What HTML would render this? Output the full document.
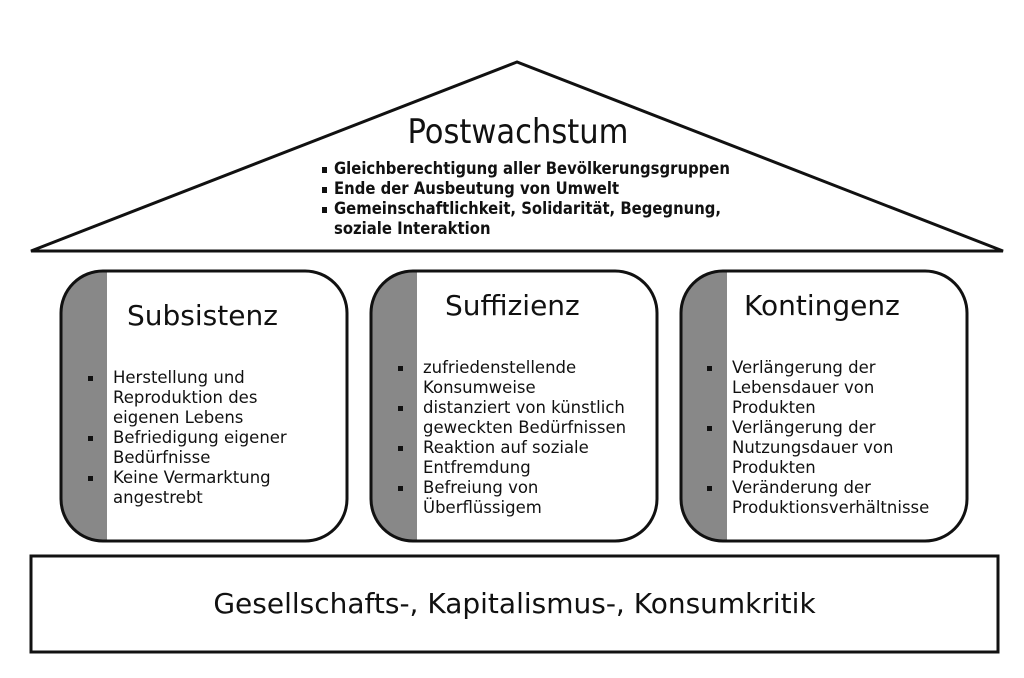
<!DOCTYPE html>
<html><head><meta charset="utf-8"><style>
body{margin:0;width:1024px;height:678px;background:#fff;position:relative;overflow:hidden;font-family:"DejaVu Sans","Liberation Sans",sans-serif;color:#111}
.t{position:absolute;white-space:nowrap}
.h{font-size:28px}
.tri{position:absolute;left:322px;top:159px;font-family:"DejaVu Sans Condensed","DejaVu Sans",sans-serif;font-size:16.5px;font-weight:bold;line-height:20px;white-space:nowrap}
.tri div{position:relative;padding-left:12px}
.tri div.b:before{content:"";position:absolute;left:0;top:8px;width:5px;height:6px;background:#111}
.lst{position:absolute;font-size:16.5px;line-height:20px;white-space:nowrap}
.lst div{position:relative}
.lst div.b:before{content:"";position:absolute;left:-25px;top:8px;width:5px;height:5px;background:#111}
</style></head><body>
<svg width="1024" height="678" style="position:absolute;left:0;top:0">
<polygon points="517,62 31,251 1003,251" fill="#fff" stroke="#111" stroke-width="3"/>
<defs>
<clipPath id="c1"><rect x="61" y="271" width="286" height="270" rx="42"/></clipPath>
<clipPath id="c2"><rect x="371" y="271" width="286" height="270" rx="42"/></clipPath>
<clipPath id="c3"><rect x="681" y="271" width="286" height="270" rx="42"/></clipPath>
</defs>
<rect x="61" y="271" width="46" height="270" fill="#888" clip-path="url(#c1)"/>
<rect x="371" y="271" width="46" height="270" fill="#888" clip-path="url(#c2)"/>
<rect x="681" y="271" width="46" height="270" fill="#888" clip-path="url(#c3)"/>
<rect x="61" y="271" width="286" height="270" rx="42" fill="none" stroke="#111" stroke-width="3"/>
<rect x="371" y="271" width="286" height="270" rx="42" fill="none" stroke="#111" stroke-width="3"/>
<rect x="681" y="271" width="286" height="270" rx="42" fill="none" stroke="#111" stroke-width="3"/>
<rect x="31" y="556" width="967" height="96" fill="#fff" stroke="#111" stroke-width="3"/>
</svg>
<div class="t" style="left:0;width:1036px;text-align:center;top:112px;font-family:'DejaVu Sans Condensed','DejaVu Sans',sans-serif;font-size:34px">Postwachstum</div>
<div class="tri">
<div class="b">Gleichberechtigung aller Bevölkerungsgruppen</div>
<div class="b">Ende der Ausbeutung von Umwelt</div>
<div class="b">Gemeinschaftlichkeit, Solidarität, Begegnung,</div>
<div>soziale Interaktion</div>
</div>
<div class="t h" style="left:127px;top:299px">Subsistenz</div>
<div class="t h" style="left:445px;top:289px">Suffizienz</div>
<div class="t h" style="left:744px;top:289px">Kontingenz</div>
<div class="lst" style="left:113px;top:368px">
<div class="b">Herstellung und</div><div>Reproduktion des</div><div>eigenen Lebens</div>
<div class="b">Befriedigung eigener</div><div>Bedürfnisse</div>
<div class="b">Keine Vermarktung</div><div>angestrebt</div>
</div>
<div class="lst" style="left:423px;top:358px">
<div class="b">zufriedenstellende</div><div>Konsumweise</div>
<div class="b">distanziert von künstlich</div><div>geweckten Bedürfnissen</div>
<div class="b">Reaktion auf soziale</div><div>Entfremdung</div>
<div class="b">Befreiung von</div><div>Überflüssigem</div>
</div>
<div class="lst" style="left:732px;top:358px">
<div class="b">Verlängerung der</div><div>Lebensdauer von</div><div>Produkten</div>
<div class="b">Verlängerung der</div><div>Nutzungsdauer von</div><div>Produkten</div>
<div class="b">Veränderung der</div><div>Produktionsverhältnisse</div>
</div>
<div class="t" style="left:31px;width:967px;text-align:center;top:587px;font-size:28px">Gesellschafts-, Kapitalismus-, Konsumkritik</div>
</body></html>
